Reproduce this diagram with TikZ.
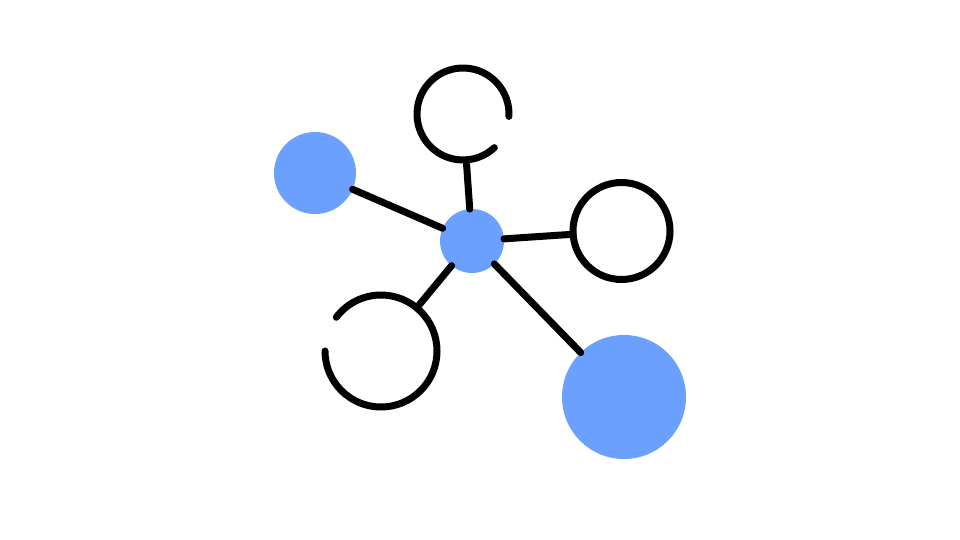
\documentclass[tikz,border=0pt]{standalone}
\definecolor{hubblue}{RGB}{108,160,254}
\begin{document}
\begin{tikzpicture}[x=1pt, y=-1pt, line width=7pt, line cap=round]
\useasboundingbox (0,0) rectangle (960,540);
\node[circle, inner sep=0, outer sep=0, minimum size=64pt, fill=hubblue] (hub) at (472,241){};
\node[circle, inner sep=0, outer sep=0, minimum size=82pt, fill=hubblue] (leftdot) at (315,173){};
\node[circle, inner sep=0, outer sep=0, minimum size=124pt, fill=hubblue] (bigdot) at (624,397){};
\node[circle, inner sep=0, outer sep=0, minimum size=97pt, draw] (ring) at (621.5,231){};
\node[circle, inner sep=0, outer sep=0, minimum size=92pt] (toparc) at (463,114){};
\node[circle, inner sep=0, outer sep=0, minimum size=112pt] (lowarc) at (381,351){};
\draw (toparc.-3) arc[start angle=-3, end angle=313, radius=46pt];
\draw (lowarc.180) arc[start angle=180, end angle=503, radius=56pt];
\draw[](hub) -- (leftdot);
\draw[](hub) -- (toparc);
\draw[](hub) -- (ring);
\draw[](hub) -- (bigdot);
\draw[](hub) -- (lowarc);
\end{tikzpicture}
\end{document}
